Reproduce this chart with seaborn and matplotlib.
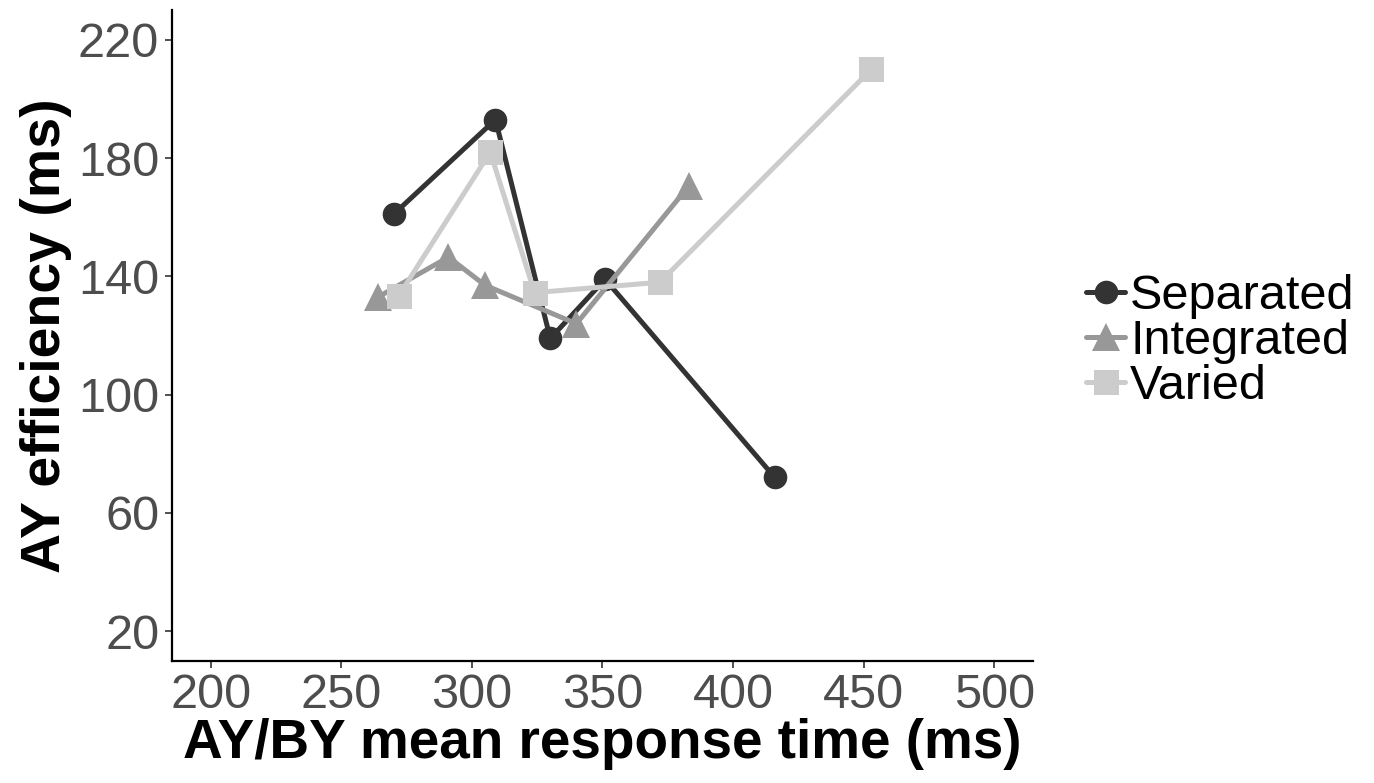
import pandas as pd
from matplotlib import pyplot as plt
import seaborn as sns

sns.set_theme(style='white')
plt.rcParams['font.family'] = ['Liberation Sans', 'DejaVu Sans']

# values
groups = ['Separated', 'Integrated', 'Varied']
sep_rt = [270, 309, 330, 351, 416]
sep_eff = [161, 193, 119, 139, 72]
int_rt = [264, 291, 305, 340, 383]
int_eff = [133, 146.5, 137, 124, 170.5]
var_rt = [272, 307, 324, 372, 453]
var_eff = [133.5, 182, 134.5, 138, 210]

df = pd.concat([
    pd.DataFrame({'rt': sep_rt, 'eff': sep_eff, 'cond': 'Separated'}),
    pd.DataFrame({'rt': int_rt, 'eff': int_eff, 'cond': 'Integrated'}),
    pd.DataFrame({'rt': var_rt, 'eff': var_eff, 'cond': 'Varied'}),
])

palette = {'Separated': '#333333', 'Integrated': '#989898', 'Varied': '#cccccc'}
markers = {'Separated': 'o', 'Integrated': '^', 'Varied': 's'}

fig = plt.figure(figsize=(13.74, 7.83), dpi=100)
ax = fig.add_axes([0.125, 0.156, 0.627, 0.831])

sns.lineplot(ax=ax, data=df, x='rt', y='eff', hue='cond', style='cond',
             hue_order=groups, style_order=groups, palette=palette,
             markers=markers, dashes=False, linewidth=3.6, markersize=17,
             markeredgewidth=0)

for ln in ax.lines:
    m = ln.get_marker()
    if m == '^':
        ln.set_markersize(20)
    elif m == 's':
        ln.set_markersize(18)

ax.set_xlim(185, 515)
ax.set_ylim(10, 230)
ax.set_xticks([200, 250, 300, 350, 400, 450, 500])
ax.set_yticks([20, 60, 100, 140, 180, 220])

for s in ['top', 'right']:
    ax.spines[s].set_visible(False)
for s in ['left', 'bottom']:
    ax.spines[s].set_color('black')
    ax.spines[s].set_linewidth(1.6)

ax.tick_params(axis='both', which='major', labelsize=35, labelcolor='#4d4d4d',
               color='#333333', length=5, width=1.2, direction='out',
               bottom=True, left=True, pad=4)

ax.set_xlabel('AY/BY mean response time (ms)', fontsize=39.5, fontweight='bold',
              color='black', labelpad=0)
ax.set_ylabel('AY efficiency (ms)', fontsize=40, fontweight='bold',
              color='black', labelpad=4)

handles, labels = ax.get_legend_handles_labels()
leg = ax.legend(handles, labels, loc='center left', bbox_to_anchor=(0.773, 0.564),
                bbox_transform=fig.transFigure, frameon=False, fontsize=35,
                handlelength=0.8, handletextpad=0.1, labelspacing=0.0,
                borderpad=0, markerscale=1)
for t in leg.get_texts():
    t.set_color('black')

plt.savefig('out.png', dpi=100)
